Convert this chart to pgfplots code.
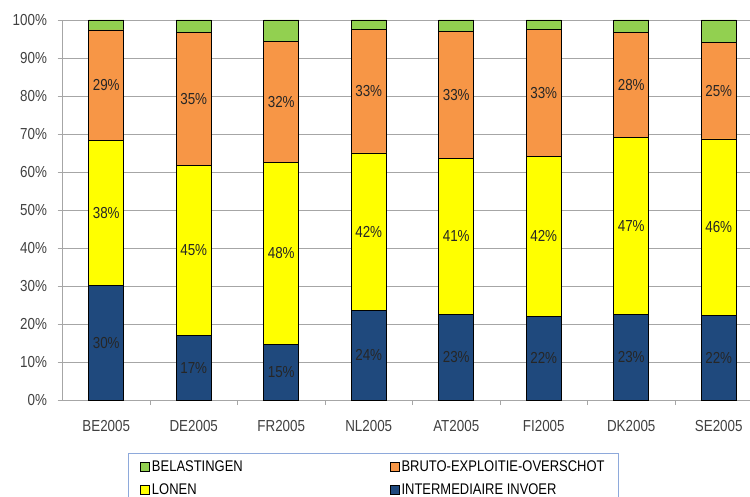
\documentclass[border=0pt]{standalone}
\usepackage{pgfplots}
\pgfplotsset{compat=1.18}
\usepackage{pgfplotstable}
\usepackage{fontspec}
\setmainfont{Liberation Sans}[FakeStretch=0.84]

\definecolor{cblue}{HTML}{1F497D}
\definecolor{cyellow}{HTML}{FFFF00}
\definecolor{corange}{HTML}{F79646}
\definecolor{cgreen}{HTML}{92D050}
\definecolor{gridgray}{HTML}{A6A6A6}
\definecolor{txtgray}{HTML}{404040}
\definecolor{legborder}{HTML}{8EA9DB}

% x = category index, y = share in %, lab = printed label
\pgfplotstableread{
x y lab
0 30.2 30\%
1 17.0 17\%
2 14.6 15\%
3 23.6 24\%
4 22.6 23\%
5 22.0 22\%
6 22.6 23\%
7 22.3 22\%
}\invoer
\pgfplotstableread{
x y lab
0 38.2 38\%
1 44.8 45\%
2 48.0 48\%
3 41.4 42\%
4 41.0 41\%
5 42.2 42\%
6 46.6 47\%
7 46.4 46\%
}\lonen
\pgfplotstableread{
x y lab
0 29.0 29\%
1 35.0 35\%
2 31.8 32\%
3 32.6 33\%
4 33.4 33\%
5 33.4 33\%
6 27.6 28\%
7 25.4 25\%
}\bruto
\pgfplotstableread{
x y
0 2.6
1 3.2
2 5.6
3 2.4
4 3.0
5 2.4
6 3.2
7 5.9
}\belast

\begin{document}
\fontsize{16}{19}\selectfont
\begin{tikzpicture}
\begin{axis}[
  scale only axis,
  width=700bp, height=380bp,
  ybar stacked,
  bar width=35bp,
  xmin=-0.5, xmax=7.5,
  ymin=0, ymax=100,
  axis x line*=bottom,
  axis y line*=left,
  axis line style={gridgray, line width=0.8pt},
  ytick={0,10,...,100},
  yticklabel={\pgfmathprintnumber{\tick}\%},
  ymajorgrids,
  major grid style={gridgray, line width=0.8pt},
  tick align=outside,
  ytick style={gridgray, line width=0.8pt},
  major tick length=5bp,
  xtick={0,...,7},
  xticklabels={BE2005,DE2005,FR2005,NL2005,AT2005,FI2005,DK2005,SE2005},
  xtick style={draw=none},
  extra x ticks={0.5,1.5,...,6.5},
  extra x tick labels={},
  extra x tick style={xtick style={draw=gridgray, line width=0.8pt}, grid=none},
  ticklabel style={font=\fontsize{16}{19}\selectfont, text=txtgray},
  yticklabel style={xshift=-5bp},
  xticklabel style={yshift=-10bp},
  /pgf/number format/assume math mode=true,
  every axis plot/.append style={draw=black, line width=0.6pt},
  nodes near coords style={font=\fontsize{16}{19}\selectfont, text=black!85,
    anchor=center},
  legend columns=2,
  legend cell align=left,
  legend style={
    at={(65.5bp,-53bp)}, anchor=north west,
    draw=legborder, line width=0.8pt,
    font=\fontsize{15.5}{18}\selectfont,
    inner xsep=12bp, inner ysep=5bp,
    row sep=6bp,
  },
  legend image code/.code={\draw[#1, line width=0.6pt] (0bp,-4.5bp) rectangle (9bp,4.5bp);},
  legend plot pos=left,
]
\addplot[fill=cblue, nodes near coords, point meta=explicit symbolic, forget plot]
  table[x=x, y=y, meta=lab] {\invoer};
\addplot[fill=cyellow, nodes near coords, point meta=explicit symbolic, forget plot]
  table[x=x, y=y, meta=lab] {\lonen};
\addplot[fill=corange, nodes near coords, point meta=explicit symbolic, forget plot]
  table[x=x, y=y, meta=lab] {\bruto};
\addplot[fill=cgreen, forget plot] table[x=x, y=y] {\belast};

% legend entries in the reference order (green, orange / yellow, blue)
\addlegendimage{fill=cgreen, draw=black}
\addlegendentry{\makebox[236bp][l]{BELASTINGEN}}
\addlegendimage{fill=corange, draw=black}
\addlegendentry{\makebox[203bp][l]{BRUTO-EXPLOITIE-OVERSCHOT}}
\addlegendimage{fill=cyellow, draw=black}
\addlegendentry{LONEN}
\addlegendimage{fill=cblue, draw=black}
\addlegendentry{INTERMEDIAIRE INVOER}
\end{axis}
\pgfresetboundingbox
\path[use as bounding box] (-62.5bp,-97bp) rectangle (687.5bp,400bp);
\end{tikzpicture}
\end{document}
